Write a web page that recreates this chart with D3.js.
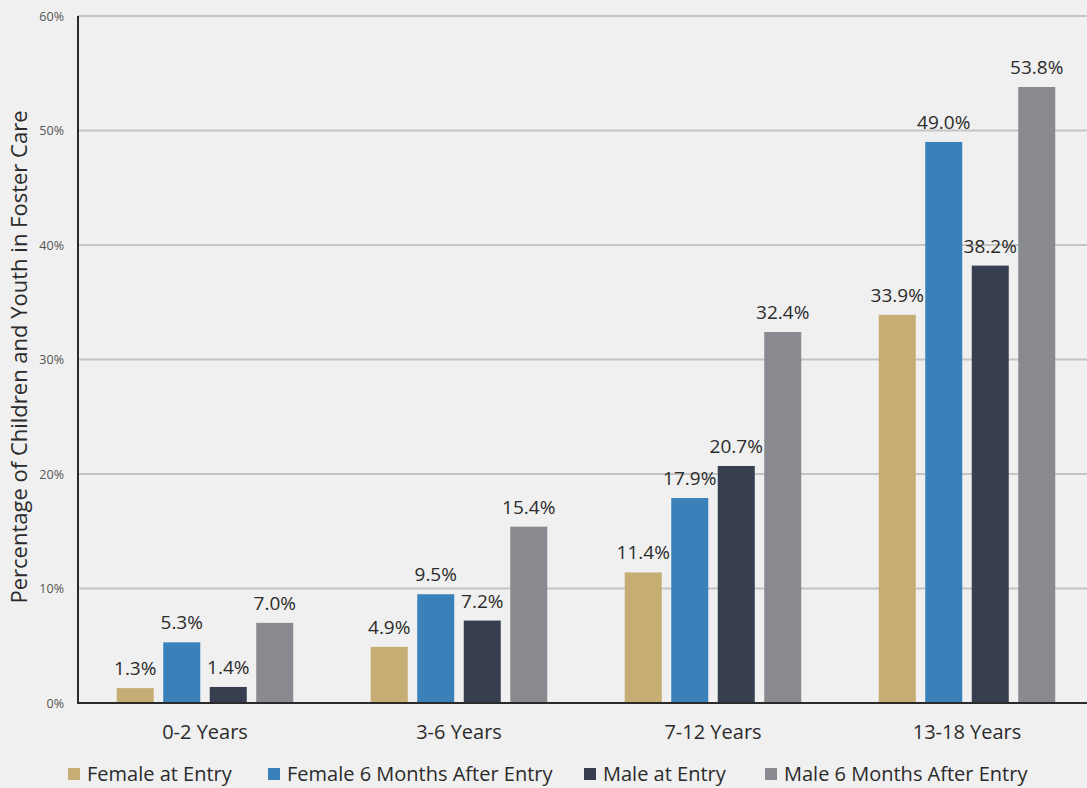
<!DOCTYPE html>
<html>
<head>
<meta charset="utf-8">
<script src="https://cdn.jsdelivr.net/npm/d3@7"></script>
<style>
  html, body { margin: 0; padding: 0; background: #f0f0f0; }
  svg { display: block; }
  text { font-family: "Open Sans", "Noto Sans", sans-serif; }
</style>
</head>
<body>
<svg id="chart" width="1087" height="788"></svg>
<script>
// Age groups along the x axis
const categories = ["0-2 Years", "3-6 Years", "7-12 Years", "13-18 Years"];
// Series names, shown in the legend
const seriesNames = ["Female at Entry", "Female 6 Months After Entry", "Male at Entry", "Male 6 Months After Entry"];
// Percent of children and youth in foster care, one array per series
const femaleAtEntry = [1.3, 4.9, 11.4, 33.9];
const female6Months = [5.3, 9.5, 17.9, 49.0];
const maleAtEntry = [1.4, 7.2, 20.7, 38.2];
const male6Months = [7.0, 15.4, 32.4, 53.8];
// Y axis ticks
const yTicks = [0, 10, 20, 30, 40, 50, 60];

const seriesValues = [femaleAtEntry, female6Months, maleAtEntry, male6Months];
const colors = ["#c5ad74", "#3a81ba", "#373e4f", "#898a8f"];

const svg = d3.select("#chart");
const margin = { left: 78, top: 16, bottom: 85 };
const W = 1087, H = 788;
const plotBottom = H - margin.bottom;

const x = d3.scaleBand().domain(categories).range([margin.left, margin.left + 1016]);
const x1 = d3.scaleBand().domain(d3.range(4)).range([0, x.bandwidth()]).paddingInner(0.204).paddingOuter(0.833);
const y = d3.scaleLinear().domain([0, 60]).range([plotBottom, margin.top]);

// Gridlines
svg.append("g")
  .selectAll("line")
  .data(yTicks.filter(t => t > 0))
  .join("line")
  .attr("x1", margin.left).attr("x2", W)
  .attr("y1", d => y(d)).attr("y2", d => y(d))
  .attr("stroke", "#c4c4c4").attr("stroke-width", 2);

// Y tick labels
const yAxis = d3.axisLeft(y).tickValues(yTicks).tickFormat(d => d + "%").tickSize(0).tickPadding(14);
const gy = svg.append("g").attr("transform", `translate(${margin.left},0)`).call(yAxis);
gy.select(".domain").remove();
gy.selectAll("text").attr("font-size", 12.5).attr("fill", "#555")
  .attr("font-family", "\"Open Sans\", sans-serif").attr("dy", "0.32em");

// Bars
const groups = svg.append("g").selectAll("g")
  .data(categories)
  .join("g")
  .attr("transform", d => `translate(${x(d)},0)`);

groups.selectAll("rect")
  .data((c, i) => seriesValues.map((s, k) => ({ k, v: s[i] })))
  .join("rect")
  .attr("x", d => x1(d.k))
  .attr("width", x1.bandwidth())
  .attr("y", d => y(d.v))
  .attr("height", d => plotBottom - y(d.v))
  .attr("fill", d => colors[d.k]);

// Value labels above bars
groups.selectAll("text.val")
  .data((c, i) => seriesValues.map((s, k) => ({ k, v: s[i] })))
  .join("text")
  .attr("class", "val")
  .attr("x", d => x1(d.k) + x1.bandwidth() / 2)
  .attr("y", d => y(d.v) - 13)
  .attr("text-anchor", "middle")
  .attr("font-size", 19)
  .attr("fill", "#2b2b2b")
  .text(d => d.v.toFixed(1) + "%");

// Axis lines
svg.append("line").attr("x1", margin.left).attr("x2", margin.left)
  .attr("y1", margin.top).attr("y2", plotBottom)
  .attr("stroke", "#2a2a2a").attr("stroke-width", 2);
svg.append("line").attr("x1", margin.left - 1).attr("x2", W)
  .attr("y1", plotBottom).attr("y2", plotBottom)
  .attr("stroke", "#2a2a2a").attr("stroke-width", 2);

// Category labels
const xAxis = d3.axisBottom(x).tickSize(0).tickPadding(22);
const gx = svg.append("g").attr("transform", `translate(0,${plotBottom})`).call(xAxis);
gx.select(".domain").remove();
gx.selectAll("text").attr("font-size", 20).attr("fill", "#2b2b2b").attr("font-family", "\"Open Sans\", sans-serif");

// Y axis title
svg.append("text")
  .attr("transform", `translate(27,357) rotate(-90)`)
  .attr("text-anchor", "middle")
  .attr("font-size", 22)
  .attr("fill", "#2b2b2b")
  .text("Percentage of Children and Youth in Foster Care");

// Legend
const legendX = [68, 268, 584, 765];
const legend = svg.append("g").selectAll("g")
  .data(seriesNames)
  .join("g")
  .attr("transform", (d, i) => `translate(${legendX[i]},768)`);
legend.append("rect").attr("width", 12).attr("height", 12).attr("fill", (d, i) => colors[i]);
legend.append("text").attr("x", 19).attr("y", 13).attr("font-size", 20).attr("fill", "#2b2b2b").text(d => d);
</script>
</body>
</html>
